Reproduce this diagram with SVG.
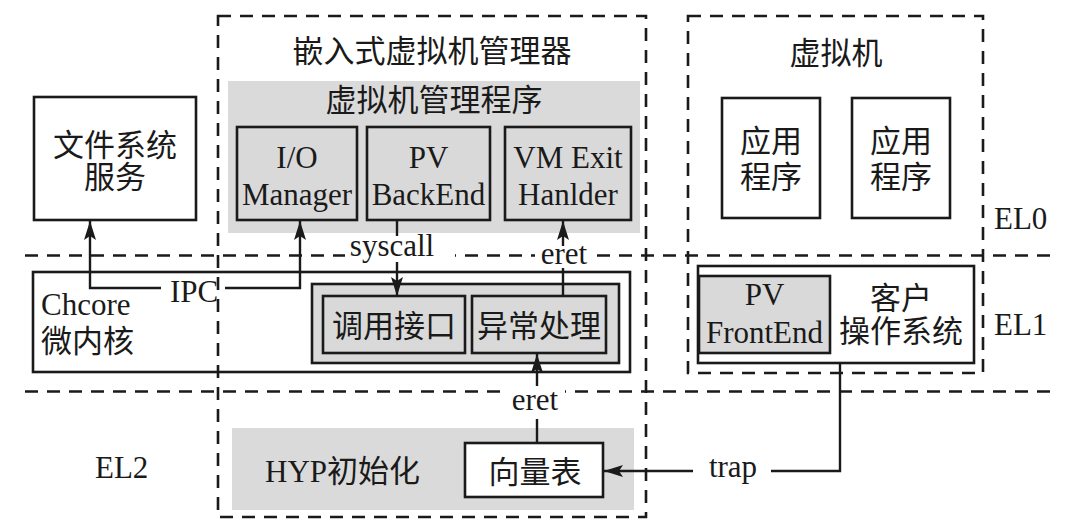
<svg xmlns="http://www.w3.org/2000/svg" width="1080" height="531" viewBox="0 0 1080 531">
<defs>
<style>
text{font-family:"Liberation Serif","Noto Sans CJK SC",serif;font-size:31px;fill:#1a1a1a}
.c{text-anchor:middle}
.dash{fill:none;stroke:#1a1a1a;stroke-width:2.6;stroke-dasharray:13 9}
.box{fill:#fff;stroke:#1a1a1a;stroke-width:2.6}
.gbox{fill:#d9d9d9;stroke:#1a1a1a;stroke-width:2.6}
.gray{fill:#dadada;stroke:none}
.ln{fill:none;stroke:#1a1a1a;stroke-width:2.4}
.bg{fill:#fff;stroke:none}
</style>
<marker id="ah" markerUnits="userSpaceOnUse" markerWidth="20" markerHeight="12" refX="19" refY="6" orient="auto">
<path d="M0,0 L19,6 L0,12 L4,6 z" fill="#1a1a1a"/>
</marker>
</defs>
<rect width="1080" height="531" fill="#fff"/>

<g id="levels">
<line class="dash" x1="25" y1="255.5" x2="1052" y2="255.5"/>
<line class="dash" x1="25" y1="391.5" x2="1052" y2="391.5"/>
<text x="994" y="229">EL0</text>
<text x="994" y="335">EL1</text>
<text x="95" y="478">EL2</text>
</g>

<g id="fs">
<rect class="box" x="34" y="97" width="162" height="123"/>
<text class="c" x="115" y="156">文件系统</text>
<text class="c" x="115" y="188">服务</text>
</g>

<g id="hypervisor">
<rect class="dash" x="218" y="16" width="428" height="501"/>
<text class="c" x="432" y="62">嵌入式虚拟机管理器</text>
</g>

<g id="vmm">
<rect class="gray" x="228" y="81" width="412" height="152"/>
<text class="c" x="434" y="111">虚拟机管理程序</text>
</g>

<g id="iomgr">
<rect class="gbox" x="237" y="127" width="120" height="93"/>
<text class="c" x="297" y="168">I/O</text>
<text class="c" x="297" y="205">Manager</text>
</g>

<g id="pvback">
<rect class="gbox" x="367" y="127" width="123" height="93"/>
<text class="c" x="428.5" y="168">PV</text>
<text class="c" x="428.5" y="205">BackEnd</text>
</g>

<g id="vmexit">
<rect class="gbox" x="505" y="127" width="126" height="93"/>
<text class="c" x="568" y="168">VM Exit</text>
<text class="c" x="568" y="205">Hanlder</text>
</g>

<g id="chcore">
<rect x="33" y="272" width="597" height="100" fill="none" stroke="#1a1a1a" stroke-width="2.6"/>
<text x="41" y="315">Chcore</text>
<text x="41" y="352">微内核</text>
<rect class="gbox" x="312" y="284" width="307" height="79"/>
</g>

<g id="syscallif">
<rect class="gbox" x="323" y="296" width="142" height="57"/>
<text class="c" x="394" y="337">调用接口</text>
</g>

<g id="exchandler">
<rect class="gbox" x="472" y="296" width="134" height="57"/>
<text class="c" x="539" y="337">异常处理</text>
</g>

<g id="vm">
<rect class="dash" x="688" y="16" width="295" height="357"/>
<text class="c" x="836" y="64">虚拟机</text>
</g>

<g id="app1">
<rect class="box" x="722" y="98" width="98" height="120"/>
<text class="c" x="771" y="152">应用</text>
<text class="c" x="771" y="188">程序</text>
</g>

<g id="app2">
<rect class="box" x="852" y="98" width="98" height="120"/>
<text class="c" x="901" y="152">应用</text>
<text class="c" x="901" y="188">程序</text>
</g>

<g id="guestos">
<rect class="box" x="698" y="266" width="276" height="97"/>
<text class="c" x="901" y="309">客户</text>
<text class="c" x="901" y="342">操作系统</text>
</g>

<g id="pvfront">
<rect class="gbox" x="699" y="276" width="131" height="77"/>
<text class="c" x="764.5" y="305">PV</text>
<text class="c" x="764.5" y="343">FrontEnd</text>
</g>

<g id="hypinit">
<rect class="gray" x="232" y="428" width="402" height="82"/>
<text x="265" y="482">HYP初始化</text>
</g>

<g id="vectable">
<rect class="box" x="465" y="443" width="138" height="54"/>
<text class="c" x="535" y="483">向量表</text>
</g>

<g id="connectors">
<path class="ln" d="M161,288 H90 V221" marker-end="url(#ah)"/>
<path class="ln" d="M225,288 H300 V221" marker-end="url(#ah)"/>
<text class="c" x="194" y="302">IPC</text>
<path class="ln" d="M397,220 V236"/>
<path class="ln" d="M397,262 V296" marker-end="url(#ah)"/>
<rect class="bg" x="345" y="238" width="110" height="23"/>
<text class="c" x="392" y="256">syscall</text>
<path class="ln" d="M563,296 V268"/>
<path class="ln" d="M563,246 V221" marker-end="url(#ah)"/>
<rect class="bg" x="535" y="247" width="60" height="20"/>
<text class="c" x="564" y="264">eret</text>
<path class="ln" d="M537,443 V419"/>
<path class="ln" d="M537,386 V354" marker-end="url(#ah)"/>
<rect class="bg" x="505" y="388" width="60" height="28"/>
<text class="c" x="535" y="410">eret</text>
<path class="ln" d="M840,363 V471 H771"/>
<path class="ln" d="M693,471 H604" marker-end="url(#ah)"/>
<text class="c" x="733" y="477">trap</text>
</g>
</svg>
